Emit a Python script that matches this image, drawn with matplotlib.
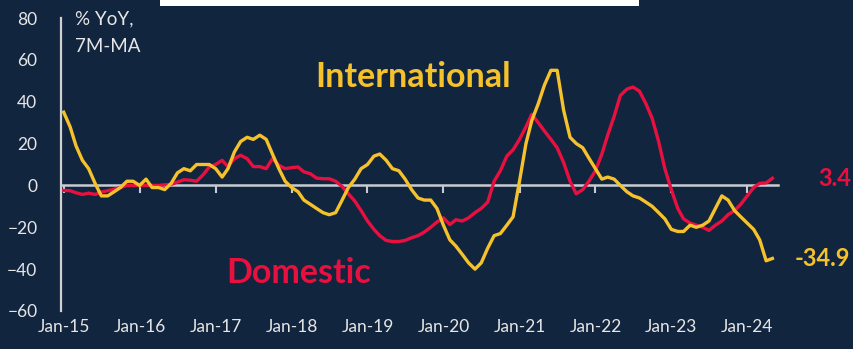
import numpy as np
import pandas as pd
import matplotlib
matplotlib.use("Agg")
import matplotlib.pyplot as plt
import matplotlib.dates as mdates
from matplotlib.patches import Rectangle

# Monthly, 7M-MA of % YoY, Jan-15 .. May-24
months = pd.date_range("2015-01-01", periods=113, freq="MS")

international = [
    35, 28, 19, 12, 8, 1, -5, -5, -3, -1, 2, 2,
    0, 3, -1, -1, -2, 1, 6, 8, 7, 10, 10, 10,
    8, 4, 8, 16, 21, 23, 22, 24, 22, 15, 8, 2,
    -1, -3, -7, -9, -11, -13, -14, -13, -7, -1, 3, 8,
    10, 14, 15, 12, 8, 7, 3, -2, -6, -7, -7, -11,
    -19, -26, -29, -33, -37, -40, -37, -30, -24, -23, -19, -15,
    2, 20, 31, 39, 48, 55, 55, 36, 23, 20, 18, 13,
    8, 3, 4, 3, 0, -3, -5, -6, -8, -10, -13, -16,
    -21, -22, -22, -19, -20, -19, -17, -11, -5, -7, -12, -15,
    -18, -21, -26, -36, -34.9,
]

domestic = [
    -2.4, -2.5, -3.5, -4.3, -3.7, -4.3, -3.2, -2.5, -1.8, -1, 0, 0,
    0, 0, 0, 0, 0.3, 0.5, 1.6, 2.7, 2.5, 2, 5, 8.8,
    10, 12, 9, 12.8, 14.4, 12.8, 9, 9, 8, 12.8, 9.6, 8,
    8.5, 8.8, 6.5, 5.6, 3.5, 3.2, 3.2, 2, -0.5, -4, -7.5, -12,
    -17, -21, -24, -26.3, -26.8, -26.8, -26.3, -25, -24, -22.3, -20, -17.5,
    -15.5, -18.7, -16.4, -17, -15.5, -13, -11, -8, 2, 7, 14, 17,
    22, 28, 34, 30, 26, 22, 18, 11, 2, -4, -2, 2,
    7, 15, 24, 33, 43, 46, 47, 45, 39, 32, 21, 8,
    -2, -11, -16, -18, -19, -20, -21.5, -19, -17, -14, -12, -9,
    -5, -1, 1, 1.2, 3.4,
]

yticks = [-60, -40, -20, 0, 20, 40, 60, 80]
year_ticks = months[::12]

BG = "#12253F"
RED = "#E8103F"
YELLOW = "#F6C22B"
GRAY = "#D0D0D0"

plt.rcParams["font.family"] = ["Lato", "DejaVu Sans"]

fig = plt.figure(figsize=(8.54, 3.49), dpi=100, facecolor=BG)
ax = fig.add_axes([0.0714, 0.1089, 0.9396 - 0.0714 - 0.0286, 0.9484 - 0.1089])
ax.set_facecolor(BG)

ax.plot(months, domestic, color=RED, lw=2.4, solid_joinstyle="round", zorder=3)
ax.plot(months, international, color=YELLOW, lw=2.4, solid_joinstyle="round", zorder=4)

ax.set_ylim(-60, 80)
ax.set_xlim(pd.Timestamp("2014-12-19"), pd.Timestamp("2024-05-28"))
ax.set_yticks(yticks)
ax.tick_params(axis="y", length=0, pad=17, labelsize=12.5, labelcolor="#E6E6E6")

# zero line acts as x axis, with small ticks hanging down
for s in ["top", "right"]:
    ax.spines[s].set_visible(False)
ax.spines["bottom"].set_position(("data", 0))
ax.spines["bottom"].set_color("#C8CCD2")
ax.spines["bottom"].set_linewidth(1.8)
ax.spines["left"].set_color(GRAY)
ax.spines["left"].set_linewidth(1.6)
ax.set_xticks(year_ticks)
ax.tick_params(axis="x", direction="out", length=6, width=1.5, color="#C8CCD2",
               labelbottom=False)

# year labels along the bottom of the plot
sec = ax.secondary_xaxis("bottom")
sec.set_xticks(year_ticks)
sec.xaxis.set_major_formatter(mdates.DateFormatter("%b-%y"))
sec.tick_params(length=0, pad=6, labelsize=12.5, labelcolor="#E6E6E6")
sec.spines["bottom"].set_visible(False)

ax.text(0.019, 1.025, "% YoY,\n7M-MA", transform=ax.transAxes, ha="left", va="top",
        fontsize=13.5, color="#E6E6E6", linespacing=1.75)
ax.text(0.355, 0.80, "International", transform=ax.transAxes, ha="left", va="center",
        fontsize=24.5, fontweight="bold", color=YELLOW)
ax.text(0.231, 0.13, "Domestic", transform=ax.transAxes, ha="left", va="center",
        fontsize=24.5, fontweight="bold", color=RED)
ax.annotate("3.4", xy=(months[-1], domestic[-1]), xytext=(33, 0),
            textcoords="offset points", ha="left", va="center",
            fontsize=17, fontweight="bold", color=RED)
ax.annotate("-34.9", xy=(months[-1], international[-1]), xytext=(16, 0),
            textcoords="offset points", ha="left", va="center",
            fontsize=17, fontweight="bold", color=YELLOW)

# white box clipped at the top edge
fig.patches.append(Rectangle((160 / 854, 1 - 6 / 349), (639 - 160) / 854, 6 / 349,
                             transform=fig.transFigure, facecolor="white",
                             edgecolor="none"))

fig.savefig("out.png", dpi=100, facecolor=BG)
